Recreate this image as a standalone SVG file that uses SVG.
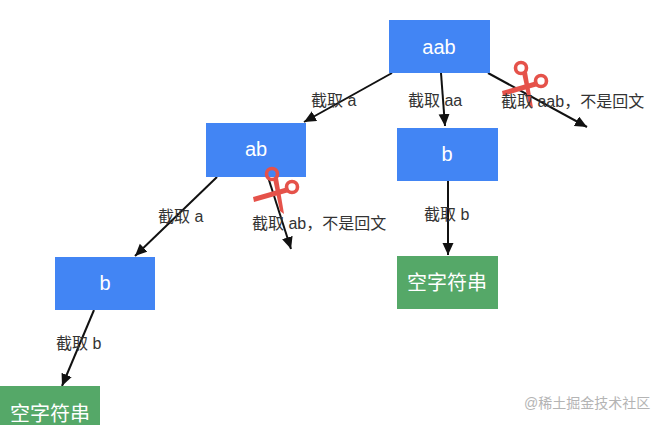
<svg xmlns="http://www.w3.org/2000/svg" width="663" height="425" viewBox="0 0 663 425">
<style>
text{font-family:"Liberation Sans","Noto Sans CJK SC",sans-serif}
.blue{fill:#4285f4}.green{fill:#55a868}
.nt{font-size:20px;fill:#fff;text-anchor:middle}
.et{font-size:16px;fill:#333}
.c{stroke:#111;stroke-width:2;fill:none;marker-end:url(#a)}
.sr{fill:none;stroke:#e5524a;stroke-width:3.6}
.sb{fill:#e5524a;stroke:none}
</style>
<defs>
<marker id="a" markerUnits="userSpaceOnUse" markerWidth="14" markerHeight="12" refX="12" refY="5.5" orient="auto"><path d="M0 0L12 5.5L0 11Z" fill="#111"/></marker>
<g id="sc">
<circle class="sr" cx="0" cy="0" r="5.5"/><circle class="sr" cx="20" cy="13" r="5.5"/>
<path class="sb" d="M1 5L6 4L12 40L8 37Z"/>
<path class="sb" d="M16 13L17 18L-18 28L-19 23Z"/>
</g>
</defs>
<rect width="663" height="425" fill="#fff"/>
<g id="connectors">
<path class="c" d="M392 73L304 122"/>
<path class="c" d="M441 73L445 126"/>
<path class="c" d="M488 73L587 127"/>
<path class="c" d="M217 177L135 256"/>
<path class="c" d="M268 177L291 249"/>
<path class="c" d="M448 181L448 255"/>
<path class="c" d="M94 310L62 386"/>
</g>
<g id="node-aab"><rect class="blue" x="389" y="20" width="101" height="53"/><text class="nt" x="439" y="54">aab</text></g>
<g id="node-ab"><rect class="blue" x="206" y="123" width="100" height="54"/><text class="nt" x="256" y="156">ab</text></g>
<g id="node-b1"><rect class="blue" x="397" y="128" width="101" height="53"/><text class="nt" x="447" y="161">b</text></g>
<g id="node-b2"><rect class="blue" x="55" y="257" width="100" height="53"/><text class="nt" x="105" y="290">b</text></g>
<g id="node-empty1"><rect class="green" x="397" y="256" width="101" height="53"/><text class="nt" x="447" y="290">空字符串</text></g>
<g id="node-empty2"><rect class="green" x="0" y="386" width="100" height="39"/><text class="nt" x="50" y="421">空字符串</text></g>
<g id="scissors-1"><use href="#sc" x="521" y="68"/></g>
<g id="scissors-2"><use href="#sc" x="272" y="174"/></g>
<g id="labels">
<text class="et" x="311" y="106">截取 a</text>
<text class="et" x="408" y="106">截取 aa</text>
<text class="et" x="501" y="107">截取 aab，不是回文</text>
<text class="et" x="158" y="222">截取 a</text>
<text class="et" x="252" y="229">截取 ab，不是回文</text>
<text class="et" x="424" y="220">截取 b</text>
<text class="et" x="56" y="349">截取 b</text>
</g>
<text x="524" y="408" style="font-size:14px;fill:#b4b4b4">@稀土掘金技术社区</text>
</svg>
